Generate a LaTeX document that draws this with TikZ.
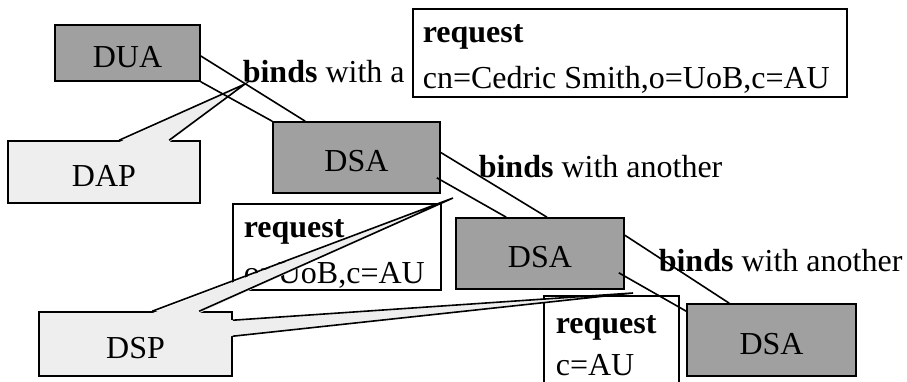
\documentclass[tikz,border=0pt]{standalone}
\usepackage{fontspec}
\setmainfont{Liberation Serif}
\definecolor{dsagray}{RGB}{160,160,160}
\definecolor{protogray}{RGB}{238,238,238}
\begin{document}
\begin{tikzpicture}[x=1pt,y=-1pt,line width=1.6pt,
		font=\fontsize{32}{46}\selectfont,
		dsabox/.style={draw, fill=dsagray, minimum width=168, minimum height=71, inner sep=0, text height=28pt, text depth=0pt},
		protobox/.style={draw, fill=protogray, inner sep=0, text height=28pt, text depth=0pt},
		reqbox/.style={draw, fill=white, inner sep=0, anchor=north west},
		reqtext/.style={anchor=base west, align=left, inner sep=0},
		bindtext/.style={anchor=base west, inner sep=0}]
		\clip (0,0) rectangle (907,381);
		\path (412,8) node(req1)[reqbox, minimum width=434, minimum height=88]{}
		(232,203) node(req2)[reqbox, minimum width=208, minimum height=86]{}
		(543,295) node(req3)[reqbox, minimum width=135, minimum height=110]{};
		\path ([shift={(10,80)}]req1.north west) node(req1txt)[reqtext]{\textbf{request}\\cn=Cedric Smith,o=UoB,c=AU}
		([shift={(11,80)}]req2.north west) node(req2txt)[reqtext]{\textbf{request}\\o=UoB,c=AU}
		([shift={(12,80)}]req3.north west) node(req3txt)[reqtext]{\textbf{request}\\[-4pt]c=AU};
		\path (127.5,53) node(dua)[dsabox, minimum width=145, minimum height=56]{DUA}
		(356.5,157.5) node(dsaa)[dsabox, minimum width=167]{DSA}
		(540,253.5) node(dsab)[dsabox]{DSA}
		(771.5,340) node(dsac)[dsabox, minimum width=169, minimum height=72]{DSA}
		(104,172) node(dap)[protobox, minimum width=192, minimum height=62]{DAP}
		(135.5,344) node(dsp)[protobox, minimum width=193, minimum height=64]{DSP};
		\coordinate (daptip) at (245,84);
		\coordinate (dsptipa) at (453,198);
		\coordinate (dsptipb) at (633,293);
		\fill[protogray] ([shift={(112,2)}]dap.north west) -- (daptip) -- ([shift={(162,2)}]dap.north west) -- cycle;
		\draw ([shift={(112,0)}]dap.north west) -- (daptip) -- ([shift={(162,0)}]dap.north west);
		\fill[protogray] ([shift={(114,2)}]dsp.north west) -- (dsptipa) -- ([shift={(161,2)}]dsp.north west) -- cycle;
		\draw ([shift={(114,0)}]dsp.north west) -- (dsptipa) -- ([shift={(161,0)}]dsp.north west);
		\fill[protogray] ([shift={(-2,9)}]dsp.north east) -- (dsptipb) -- ([shift={(-2,25)}]dsp.north east) -- cycle;
		\draw ([shift={(0,9)}]dsp.north east) -- (dsptipb) -- ([shift={(0,25)}]dsp.north east);
		\path (242,82) node(bindsa)[bindtext]{\textbf{binds} with a}
		(478,177) node(bindsb)[bindtext]{\textbf{binds} with another}
		(658,271) node(bindsc)[bindtext]{\textbf{binds} with another};
		\draw ([shift={(0,3)}]dua.east) -- ([shift={(33,0)}]dsaa.north west);
		\draw (dua.south east) -- (dsaa.north west);
		\draw ([shift={(0,-5)}]dsaa.east) -- ([shift={(7,0)}]dsab.north);
		\draw ([shift={(-4,-16)}]dsaa.south east) -- ([shift={(51,0)}]dsab.north west);
		\draw ([shift={(0,18)}]dsab.north east) -- ([shift={(43,0)}]dsac.north west);
		\draw ([shift={(-6,-17)}]dsab.south east) -- ([shift={(0,8)}]dsac.north west);
	\end{tikzpicture}
\end{document}
